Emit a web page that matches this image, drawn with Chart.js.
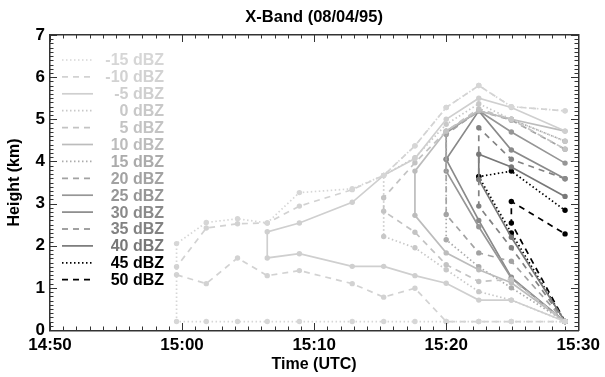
<!DOCTYPE html>
<html><head><meta charset="utf-8">
<script src="https://cdn.jsdelivr.net/npm/chart.js@4/dist/chart.umd.min.js"></script>
<style>html,body{margin:0;padding:0;background:#fff;}#wrap{width:605px;height:377px;}</style>
</head><body><div id="wrap"><canvas id="c" width="605" height="377"></canvas></div>
<script>
// ---- DATA ----
const scanTimes = ["14:59:35","15:01:50","15:04:12","15:06:27","15:08:53","15:12:53","15:15:16","15:17:38","15:20:00","15:22:28","15:24:56","15:29:00"];
const levelLabels = ["-15 dBZ","-10 dBZ","-5 dBZ","0 dBZ","5 dBZ","10 dBZ","15 dBZ","20 dBZ","25 dBZ","30 dBZ","35 dBZ","40 dBZ","45 dBZ","50 dBZ"];
const xTickLabels = ["14:50","15:00","15:10","15:20","15:30"];
const yTickLabels = ["0","1","2","3","4","5","6","7"];
const _ = null;
// echo top heights (km) per scan
const topM15 = [2.05,2.55,2.64,2.54,3.26,3.35,3.67,4.37,5.28,5.80,5.30,5.20];
const topM10 = [1.50,2.42,2.52,2.54,2.94,3.33,3.67,4.37,5.28,5.80,5.30,5.20];
const topM5  = [_,_,_,2.33,2.54,3.03,3.67,4.07,5.00,5.50,5.28,4.72];
const top0   = [_,_,_,_,_,_,3.67,4.09,4.88,5.37,5.00,4.48];
const top5   = [_,_,_,_,_,_,3.14,3.97,4.72,5.25,5.00,4.29];
const top10  = [_,_,_,_,_,_,_,3.77,4.72,5.20,5.00,4.72];
const top15  = [_,_,_,_,_,_,_,_,4.72,5.20,5.00,4.48];
const top20  = [_,_,_,_,_,_,_,_,4.64,5.20,4.98,4.29];
const top25  = [_,_,_,_,_,_,_,_,4.68,5.20,4.70,3.96];
const top30  = [_,_,_,_,_,_,_,_,4.05,5.20,4.27,3.59];
const top35  = [_,_,_,_,_,_,_,_,_,4.80,4.05,3.59];
const top40  = [_,_,_,_,_,_,_,_,_,4.17,3.87,3.17];
const top45  = [_,_,_,_,_,_,_,_,_,3.64,3.77,2.84];
const top50  = [_,_,_,_,_,_,_,_,_,_,3.05,2.28];
// echo base heights (km) per scan
const baseM15 = [0.20,0.20,0.20,0.20,0.20,0.20,0.20,0.20,0.20,0.20,0.20,0.20];
const baseM10 = [1.31,1.10,1.71,1.29,1.41,1.10,0.78,0.99,0.20,0.20,0.20,0.20];
const baseM5  = [_,_,_,1.71,1.81,1.51,1.51,1.29,1.11,0.71,0.71,0.20];
const base0   = [_,_,_,_,_,_,2.22,1.95,1.43,0.91,0.71,0.20];
const base5   = [_,_,_,_,_,_,2.82,2.32,1.55,1.15,1.20,0.20];
const base10  = [_,_,_,_,_,_,_,2.72,1.83,1.43,1.12,0.20];
const base15  = [_,_,_,_,_,_,_,_,2.14,1.50,1.00,0.20];
const base20  = [_,_,_,_,_,_,_,_,2.74,1.83,1.63,0.20];
const base25  = [_,_,_,_,_,_,_,_,3.77,2.45,1.23,0.20];
const base30  = [_,_,_,_,_,_,_,_,4.05,2.60,1.25,0.20];
const base35  = [_,_,_,_,_,_,_,_,_,2.94,1.95,0.20];
const base40  = [_,_,_,_,_,_,_,_,_,3.57,2.20,0.20];
const base45  = [_,_,_,_,_,_,_,_,_,3.64,2.30,0.20];
const base50  = [_,_,_,_,_,_,_,_,_,_,2.54,0.20];

const tops  = [topM15,topM10,topM5,top0,top5,top10,top15,top20,top25,top30,top35,top40,top45,top50];
const bases = [baseM15,baseM10,baseM5,base0,base5,base10,base15,base20,base25,base30,base35,base40,base45,base50];

// ---- STYLE ----
const levelColors = ["#d6d6d6","#d2d2d2","#cfcfcf","#c8c8c8","#c3c3c3","#bcbcbc","#ababab","#a2a2a2","#969696","#8a8a8a","#828282","#787878","#000000","#000000"];
const DOT=[1.5,2.5], DASH=[6,5], SOLID=[];
const levelDash = [DOT,DASH,SOLID,DOT,DASH,SOLID,DOT,DASH,SOLID,SOLID,DASH,SOLID,DOT,DASH];
const FONT = "'Liberation Sans', Arial, Helvetica, sans-serif";

function toMin(s){const p=s.split(':').map(Number);return p[0]*60+p[1]+p[2]/60-(14*60+50);}
const xs = scanTimes.map(toMin);

const datasets = levelLabels.map((lab,i)=>{
  const pts=[];
  for(let t=xs.length-1;t>=0;t--) if(bases[i][t]!==null) pts.push({x:xs[t],y:bases[i][t]});
  for(let t=0;t<xs.length;t++) if(tops[i][t]!==null) pts.push({x:xs[t],y:tops[i][t]});
  return {label:lab,data:pts,borderColor:levelColors[i],backgroundColor:levelColors[i],
    pointBackgroundColor:levelColors[i],pointBorderWidth:0,pointRadius:2.7,
    borderWidth:1.7,borderDash:levelDash[i],tension:0,fill:false};
});

const frame = {
  id:'frame',
  afterDraw(chart){
    const ctx=chart.ctx, a=chart.chartArea, xsc=chart.scales.x, ysc=chart.scales.y;
    const L=Math.round(a.left), R=Math.round(a.right), T=Math.round(a.top), B=Math.round(a.bottom);
    ctx.save();
    ctx.fillStyle='#333';
    ctx.fillRect(L-1,T-1,R-L+2,1.5);
    ctx.fillRect(L-1,B,R-L+2,1.5);
    ctx.fillRect(L-1,T-1,1.5,B-T+2);
    ctx.fillRect(R,T-1,1.5,B-T+2);
    for(let m=0;m<=40;m++){
      const px=Math.round(xsc.getPixelForValue(m)), len=(m%10===0)?7:3.5;
      ctx.fillRect(px,B-len,1,len);
      ctx.fillRect(px,T,1,len);
    }
    for(let k=0;k<=70;k++){
      const py=Math.round(ysc.getPixelForValue(k/10)), len=(k%10===0)?7:3.5;
      ctx.fillRect(L,py,len,1);
      ctx.fillRect(R-len,py,len,1);
    }
    // title
    ctx.fillStyle='#000'; ctx.font='bold 16.5px '+FONT; ctx.textAlign='center'; ctx.textBaseline='middle';
    ctx.fillText('X-Band (08/04/95)',(a.left+a.right)/2,17);
    // legend
    ctx.font='bold 16px '+FONT; ctx.textAlign='right';
    chart.data.datasets.forEach((d,i)=>{
      const yy=a.top+25+i*16.9;
      ctx.strokeStyle=d.borderColor; ctx.lineWidth=1.7; ctx.setLineDash(d.borderDash);
      ctx.beginPath(); ctx.moveTo(62,yy); ctx.lineTo(93,yy); ctx.stroke();
      ctx.fillStyle=d.borderColor; ctx.fillText(d.label,164,yy+1);
    });
    ctx.restore();
  }
};

new Chart(document.getElementById('c'),{
  type:'line',
  data:{datasets},
  options:{
    responsive:false,animation:false,devicePixelRatio:1,
    layout:{padding:{left:0,right:24,top:35,bottom:0}},
    plugins:{legend:{display:false},title:{display:false},tooltip:{enabled:false}},
    scales:{
      x:{type:'linear',min:0,max:40,
        ticks:{stepSize:10,color:'#000',font:{family:FONT,size:17,weight:'bold'},padding:5,maxRotation:0,
          callback:(v)=>xTickLabels[Math.round(v/10)]},
        grid:{display:false,drawTicks:false},border:{display:false},
        title:{display:true,text:'Time (UTC)',color:'#000',font:{family:FONT,size:16,weight:'bold'},padding:{top:0,bottom:3}},
        afterFit:(s)=>{s.height=47;}},
      y:{type:'linear',min:0,max:7,
        ticks:{stepSize:1,color:'#000',font:{family:FONT,size:17,weight:'bold'},padding:5,
          callback:(v)=>yTickLabels[Math.round(v)]},
        grid:{display:false,drawTicks:false},border:{display:false},
        title:{display:true,text:'Height (km)',color:'#000',font:{family:FONT,size:16,weight:'bold'},padding:{top:5,bottom:0}},
        afterFit:(s)=>{s.width=50;}}
    }
  },
  plugins:[frame]
});
</script></body></html>
